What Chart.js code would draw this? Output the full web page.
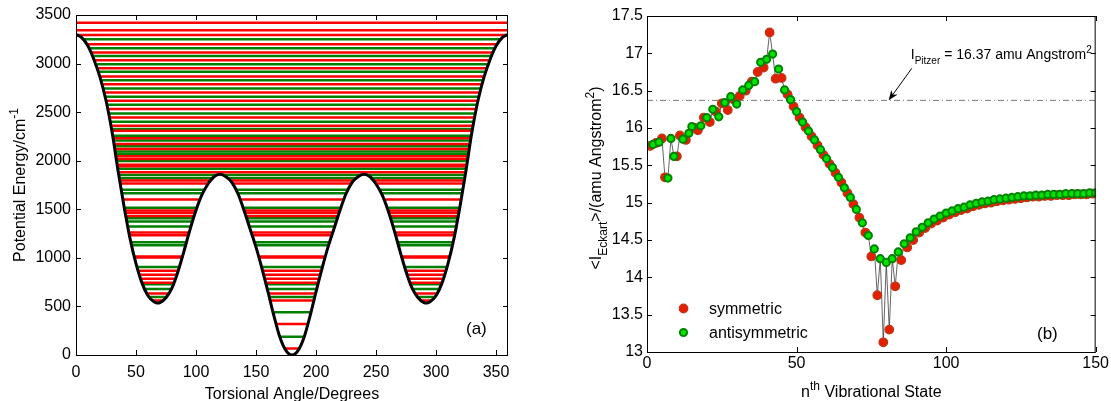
<!DOCTYPE html>
<html>
<head>
<meta charset="utf-8">
<script src="https://cdn.jsdelivr.net/npm/chart.js@4.4.0/dist/chart.umd.min.js"></script>
<style>
html, body { margin: 0; padding: 0; background: #fff; overflow: hidden; }
#left { position: absolute; left: 0; top: 0; }
#right { position: absolute; left: 560px; top: 0; }
</style>
</head>
<body>
<canvas id="left" width="560" height="401"></canvas>
<canvas id="right" width="551" height="401"></canvas>
<script>
// ---- panel (a): torsional potential and energy levels ----
var torsionAngle = [0,5,10,15,20,25,30,35,40,45,50,55,60,65,68,70,75,80,85,90,95,100,105,110,115,120,125,130,135,140,145,150,155,160,165,170,175,180,185,190,195,200,205,210,215,220,225,230,235,240,245,250,255,260,265,270,275,280,285,290,292,295,300,305,310,315,320,325,330,335,340,345,350,355,360];
var potentialEnergy = [3300,3265,3180,3040,2860,2620,2300,1900,1530,1200,940,740,610,548,535,540,590,690,860,1070,1290,1490,1650,1760,1835,1860,1835,1775,1660,1490,1300,1110,890,650,400,180,45,0,45,180,400,650,890,1110,1300,1490,1660,1775,1835,1860,1835,1760,1650,1490,1290,1070,860,690,590,540,535,548,610,740,940,1200,1530,1900,2300,2620,2860,3040,3180,3265,3300];
var symLevels = [68,320,560,632,745,785,825,868,1003,1013,1232,1262,1430,1464,1488,1600,1765,1796,1882,1943,1958,2018,2046,2121,2173,2230,2309,2361,2446,2532,2617,2703,2788,2866,2953,3035,3113,3199,3295,3343,3421];
var antiLevels = [188,440,597,680,728,907,1129,1160,1324,1375,1409,1516,1666,1701,1820,1854,1916,1998,2070,2094,2149,2207,2258,2327,2402,2487,2576,2658,2744,2829,2915,2994,3079,3158,3250];
var angleTicks = [0,50,100,150,200,250,300,350];
var energyTicks = [0,500,1000,1500,2000,2500,3000,3500];

// ---- panel (b): effective moment of inertia per state ----
var symState = [1,3,5,6,10,11,13,16,17,19,21,23,25,27,29,31,33,35,37,39,41,43,45,47,49,51,53,55,57,59,61,63,65,67,69,71,73,75,77,79,81,83,85,87,89,91,93,95,97,99,101,103,105,107,109,111,113,115,117,119,121,123,125,127,129,131,133,135,137,139,141,143,145,147,149];
var symInertia = [15.76,15.80,15.86,15.34,15.62,15.90,15.84,16.00,15.97,16.14,16.08,16.22,16.33,16.24,16.38,16.43,16.50,16.62,16.75,16.81,17.28,16.66,16.67,16.45,16.29,16.14,16.01,15.89,15.77,15.64,15.52,15.40,15.27,15.13,14.98,14.80,14.60,14.28,13.76,13.13,13.30,13.88,14.23,14.40,14.50,14.60,14.66,14.72,14.76,14.80,14.84,14.87,14.90,14.92,14.95,14.97,14.99,15.00,15.02,15.03,15.04,15.05,15.06,15.07,15.08,15.08,15.09,15.09,15.10,15.10,15.10,15.11,15.11,15.11,15.12];
var antiState = [2,4,7,8,9,12,14,15,18,20,22,24,26,28,30,32,34,36,38,40,42,44,46,48,50,52,54,56,58,60,62,64,66,68,70,72,74,76,78,80,82,84,86,88,90,92,94,96,98,100,102,104,106,108,110,112,114,116,118,120,122,124,126,128,130,132,134,136,138,140,142,144,146,148,150];
var antiInertia = [15.78,15.81,15.33,15.86,15.62,15.85,15.93,16.02,16.03,16.14,16.25,16.15,16.34,16.42,16.32,16.51,16.57,16.62,16.88,16.92,16.99,16.79,16.51,16.38,16.22,16.08,15.96,15.84,15.71,15.59,15.47,15.34,15.20,15.07,14.91,14.73,14.56,14.38,14.25,14.20,14.25,14.34,14.45,14.53,14.61,14.67,14.73,14.78,14.82,14.86,14.89,14.92,14.94,14.97,14.99,15.01,15.02,15.04,15.05,15.06,15.07,15.08,15.09,15.09,15.10,15.10,15.11,15.11,15.11,15.12,15.12,15.12,15.12,15.13,15.13];
var pitzerInertia = 16.37;
var stateTicks = [0,50,100,150];
var inertiaTicks = [13,13.5,14,14.5,15,15.5,16,16.5,17,17.5];

var FONT = "'Liberation Sans', Arial, sans-serif";
var RED = '#ff0000', GREEN = '#008000';

function points(xs, ys) {
    return xs.map(function (x, i) { return {x: x, y: ys[i]}; });
}

// text with sub/superscripts, parts = [[text, ''|'sub'|'sup'], ...]
function drawRich(ctx, parts, x, y, size, align) {
    var small = Math.round(size * 0.72);
    var w = 0;
    parts.forEach(function (p) {
        ctx.font = (p[1] ? small : size) + 'px ' + FONT;
        w += ctx.measureText(p[0]).width;
    });
    var cx = align === 'center' ? x - w / 2 : x;
    parts.forEach(function (p) {
        ctx.font = (p[1] ? small : size) + 'px ' + FONT;
        var dy = p[1] === 'sub' ? size * 0.35 : (p[1] === 'sup' ? -size * 0.45 : 0);
        ctx.fillText(p[0], cx, y + dy);
        cx += ctx.measureText(p[0]).width;
    });
}

// matlab style box with inward ticks on all four sides
function drawBox(chart) {
    var ctx = chart.ctx, a = chart.chartArea;
    var xs = chart.scales.x, ys = chart.scales.y;
    ctx.save();
    ctx.strokeStyle = '#000';
    ctx.lineWidth = 1;
    ctx.strokeRect(a.left + 0.5, a.top + 0.5, a.right - a.left - 1, a.bottom - a.top);
    ctx.beginPath();
    xs.ticks.forEach(function (t) {
        var px = Math.round(xs.getPixelForValue(t.value)) + 0.5;
        ctx.moveTo(px, a.bottom); ctx.lineTo(px, a.bottom - 5);
        ctx.moveTo(px, a.top); ctx.lineTo(px, a.top + 5);
    });
    ys.ticks.forEach(function (t) {
        var py = Math.round(ys.getPixelForValue(t.value)) + 0.5;
        ctx.moveTo(a.left, py); ctx.lineTo(a.left + 5, py);
        ctx.moveTo(a.right, py); ctx.lineTo(a.right - 5, py);
    });
    ctx.stroke();
    ctx.restore();
}

function axis(min, max, tickList, pad, size) {
    return {
        type: 'linear', min: min, max: max,
        grid: {display: false, drawTicks: false},
        border: {display: false},
        ticks: {
            color: '#000', padding: pad,
            font: {family: FONT, size: 16},
            callback: function (v) { return String(v); }
        },
        afterBuildTicks: function (s) {
            s.ticks = tickList.map(function (v) { return {value: v}; });
        },
        afterFit: function (s) {
            if (s.isHorizontal()) s.height = size; else s.width = size;
        }
    };
}

// ---------- left chart ----------
var leftSets = [{
    data: points(torsionAngle, potentialEnergy),
    borderColor: '#000', borderWidth: 3, pointRadius: 0,
    cubicInterpolationMode: 'monotone',
    fill: 'start', backgroundColor: '#fff',
    order: 0
}];
symLevels.forEach(function (e) {
    leftSets.push({data: [{x: 0, y: e}, {x: 360, y: e}], borderColor: RED, borderWidth: 2.5, pointRadius: 0, fill: false, order: 1});
});
antiLevels.forEach(function (e) {
    leftSets.push({data: [{x: 0, y: e}, {x: 360, y: e}], borderColor: GREEN, borderWidth: 2.5, pointRadius: 0, fill: false, order: 1});
});

var leftDecor = {
    id: 'leftDecor',
    afterDraw: function (chart) {
        var ctx = chart.ctx, a = chart.chartArea;
        drawBox(chart);
        ctx.save();
        ctx.fillStyle = '#000';
        ctx.textBaseline = 'alphabetic';
        drawRich(ctx, [['Torsional Angle/Degrees', '']], (a.left + a.right) / 2, 399, 16, 'center');
        drawRich(ctx, [['(a)', '']], 466, 334, 17, 'left');
        ctx.translate(25, (a.top + a.bottom) / 2);
        ctx.rotate(-Math.PI / 2);
        drawRich(ctx, [['Potential Energy/cm', ''], ['-1', 'sup']], 0, 0, 16, 'center');
        ctx.restore();
    }
};

new Chart(document.getElementById('left'), {
    type: 'line',
    data: {datasets: leftSets},
    options: {
        responsive: false, animation: false,
        layout: {padding: {top: 15, right: 52, bottom: 0, left: 0}},
        plugins: {legend: {display: false}, tooltip: {enabled: false}},
        scales: {
            x: axis(0, 360, angleTicks, 8, 46),
            y: axis(0, 3500, energyTicks, 5, 76)
        }
    },
    plugins: [leftDecor]
});

// ---------- right chart ----------
var allStates = points(symState, symInertia).concat(points(antiState, antiInertia));
allStates.sort(function (p, q) { return p.x - q.x; });

var symStyle = {bg: '#e61e00', border: '#b83a18', r: 4.3, bw: 1.2};
var antiStyle = {bg: '#00e400', border: '#008200', r: 3.6, bw: 2};

function marker(ctx, x, y, st) {
    ctx.beginPath();
    ctx.arc(x, y, st.r, 0, Math.PI * 2);
    ctx.fillStyle = st.bg; ctx.fill();
    ctx.lineWidth = st.bw; ctx.strokeStyle = st.border; ctx.stroke();
}

var rightDecor = {
    id: 'rightDecor',
    afterDraw: function (chart) {
        var ctx = chart.ctx, a = chart.chartArea;
        var xs = chart.scales.x, ys = chart.scales.y;
        drawBox(chart);
        ctx.save();
        ctx.fillStyle = '#000';
        ctx.textBaseline = 'alphabetic';
        drawRich(ctx, [['n', ''], ['th', 'sup'], [' Vibrational State', '']], (a.left + a.right) / 2, 397, 16, 'center');
        drawRich(ctx, [['(b)', '']], 477, 339, 17, 'left');
        // legend
        marker(ctx, 123.5, 308.5, symStyle);
        marker(ctx, 123.5, 332.5, antiStyle);
        ctx.fillStyle = '#000';
        drawRich(ctx, [['symmetric', '']], 149, 313.5, 16, 'left');
        drawRich(ctx, [['antisymmetric', '']], 149, 337.5, 16, 'left');
        // Pitzer annotation
        var tx = xs.getPixelForValue(88.2), ty = ys.getPixelForValue(16.92);
        drawRich(ctx, [['I', ''], ['Pitzer', 'sub'], [' = 16.37 amu Angstrom', ''], ['2', 'sup']], tx, ty, 14, 'left');
        var hx = xs.getPixelForValue(80.8), hy = ys.getPixelForValue(pitzerInertia);
        var sx = tx + 1, sy = ty + 9;
        var ang = Math.atan2(hy - sy, hx - sx);
        ctx.strokeStyle = '#000'; ctx.lineWidth = 1;
        ctx.beginPath(); ctx.moveTo(sx, sy); ctx.lineTo(hx - 6 * Math.cos(ang), hy - 6 * Math.sin(ang)); ctx.stroke();
        ctx.beginPath();
        ctx.moveTo(hx, hy);
        ctx.lineTo(hx - 10 * Math.cos(ang) + 4 * Math.sin(ang), hy - 10 * Math.sin(ang) - 4 * Math.cos(ang));
        ctx.lineTo(hx - 7 * Math.cos(ang), hy - 7 * Math.sin(ang));
        ctx.lineTo(hx - 10 * Math.cos(ang) - 4 * Math.sin(ang), hy - 10 * Math.sin(ang) + 4 * Math.cos(ang));
        ctx.closePath();
        ctx.fillStyle = '#000'; ctx.fill();
        // y title
        ctx.translate(41, 178);
        ctx.rotate(-Math.PI / 2);
        drawRich(ctx, [['<I', ''], ['Eckart', 'sub'], ['>/(amu Angstrom', ''], ['2', 'sup'], [')', '']], 0, 0, 16, 'center');
        ctx.restore();
    }
};

new Chart(document.getElementById('right'), {
    type: 'line',
    data: {
        datasets: [
            {label: 'antisymmetric', data: points(antiState, antiInertia), showLine: false,
             pointRadius: antiStyle.r, pointBackgroundColor: antiStyle.bg, pointBorderColor: antiStyle.border, pointBorderWidth: antiStyle.bw, order: 0},
            {label: 'symmetric', data: points(symState, symInertia), showLine: false,
             pointRadius: symStyle.r, pointBackgroundColor: symStyle.bg, pointBorderColor: symStyle.border, pointBorderWidth: symStyle.bw, order: 1},
            {data: allStates, borderColor: '#222', borderWidth: 0.7, pointRadius: 0, order: 2},
            {data: [{x: 0, y: pitzerInertia}, {x: 150, y: pitzerInertia}], borderColor: '#555', borderWidth: 0.8,
             borderDash: [6, 3, 1, 3], pointRadius: 0, order: 3}
        ]
    },
    options: {
        responsive: false, animation: false,
        layout: {padding: {top: 16, right: 14, bottom: 0, left: 0}},
        plugins: {legend: {display: false}, tooltip: {enabled: false}},
        scales: {
            x: axis(0, 150, stateTicks, 2, 49),
            y: axis(13, 17.5, inertiaTicks, 4, 87)
        }
    },
    plugins: [rightDecor]
});
</script>
</body>
</html>
